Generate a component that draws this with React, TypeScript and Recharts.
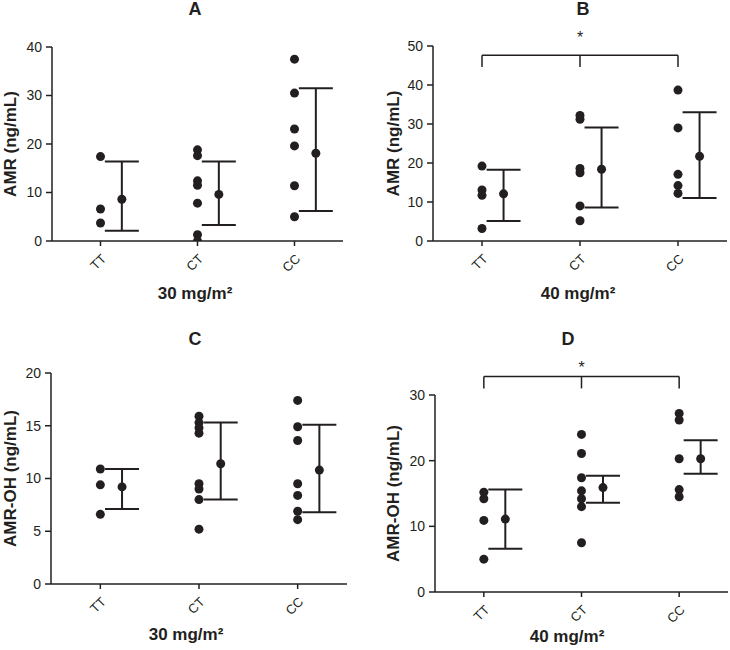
import React from "react";
import {
  ScatterChart,
  Scatter,
  XAxis,
  YAxis,
  ErrorBar,
  ReferenceLine,
} from "recharts";

// genotype groups on the x axis
const genotypes = ["TT", "CT", "CC"];

// Panel A - AMR, 30 mg/m2
const aTT = [17.4, 6.6, 3.7];
const aCT = [18.8, 17.6, 12.4, 11.5, 7.8, 1.3, 0];
const aCC = [37.5, 30.5, 23.1, 19.6, 11.4, 5.0];
const aMean = [8.6, 9.6, 18.1];
const aLow = [2.1, 3.3, 6.2];
const aHigh = [16.4, 16.4, 31.5];

// Panel B - AMR, 40 mg/m2
const bTT = [19.2, 13.1, 11.7, 3.2];
const bCT = [32.2, 31.2, 18.6, 17.5, 9.0, 5.2];
const bCC = [38.7, 29.0, 17.1, 14.2, 12.2];
const bMean = [12.1, 18.4, 21.7];
const bLow = [5.1, 8.6, 11.0];
const bHigh = [18.3, 29.1, 33.0];

// Panel C - AMR-OH, 30 mg/m2
const cTT = [10.9, 9.4, 6.6];
const cCT = [15.9, 15.3, 14.8, 14.3, 9.5, 9.0, 8.0, 5.2];
const cCC = [17.4, 14.9, 13.6, 9.5, 8.4, 6.9, 6.1];
const cMean = [9.2, 11.4, 10.8];
const cLow = [7.1, 8.0, 6.8];
const cHigh = [10.9, 15.3, 15.1];

// Panel D - AMR-OH, 40 mg/m2
const dTT = [15.2, 14.2, 10.9, 5.0];
const dCT = [24.0, 21.1, 17.4, 15.4, 14.2, 13.0, 7.5];
const dCC = [27.2, 26.2, 20.3, 15.6, 14.5];
const dMean = [11.1, 15.9, 20.3];
const dLow = [6.6, 13.6, 18.0];
const dHigh = [15.6, 17.7, 23.1];

// y ticks
const ticksA = [0, 10, 20, 30, 40];
const ticksB = [0, 10, 20, 30, 40, 50];
const ticksC = [0, 5, 10, 15, 20];
const ticksD = [0, 10, 20, 30];

const INK = "#231f20";
const FONT = "'Liberation Sans', Arial, Helvetica, sans-serif";
const MEAN_SHIFT = 0.22; // mean +/- SD drawn just right of the raw points
const X_AXIS_H = 60;

const Dot = (props: any) => (
  <circle cx={props.cx} cy={props.cy} r={4.5} fill={INK} />
);

type PanelProps = {
  left: number;
  top: number;
  width: number;
  height: number;
  plotLeft: number;
  plotRight: number;
  plotTop: number;
  plotBottom: number;
  groups: number[][];
  mean: number[];
  low: number[];
  high: number[];
  ticks: number[];
  yLabel: string;
  xLabel: string;
  title: string;
  titleX: number;
  titleY: number;
  xLabelX: number;
  xLabelY: number;
  yLabelX: number;
  bracket?: { y: number; drop: number; starOffset: number };
};

const Panel = (p: PanelProps) => {
  const points = p.groups.flatMap((vals, i) =>
    vals.map((v) => ({ x: i, y: v }))
  );
  const means = p.mean.map((m, i) => ({
    x: i + MEAN_SHIFT,
    y: m,
    err: [m - p.low[i], p.high[i] - m],
  }));
  const margin = {
    top: p.plotTop,
    right: p.width - p.plotRight,
    bottom: p.height - p.plotBottom - X_AXIS_H,
    left: 0,
  };
  const yMid = (p.plotTop + p.plotBottom) / 2;
  const yMax = p.ticks[p.ticks.length - 1];
  return (
    <div style={{ position: "absolute", left: p.left, top: p.top }}>
      <ScatterChart width={p.width} height={p.height} margin={margin}>
        <XAxis
          type="number"
          dataKey="x"
          domain={[-0.5, 2.5]}
          ticks={[0, 1, 2]}
          interval={0}
          height={X_AXIS_H}
          tickFormatter={(v: number) => genotypes[v]}
          angle={-45}
          textAnchor="end"
          tickMargin={7}
          tick={{ fontSize: 13, fill: INK, fontFamily: FONT }}
          tickSize={5}
          axisLine={{ stroke: INK, strokeWidth: 1.5 }}
          tickLine={{ stroke: INK, strokeWidth: 1.5 }}
        />
        <YAxis
          type="number"
          dataKey="y"
          domain={[0, yMax]}
          ticks={p.ticks}
          interval={0}
          allowDataOverflow
          width={p.plotLeft}
          tickSize={6}
          tickMargin={4}
          tick={{ fontSize: 14, fill: INK, fontFamily: FONT }}
          axisLine={{ stroke: INK, strokeWidth: 1.5 }}
          tickLine={{ stroke: INK, strokeWidth: 1.5 }}
        />
        <Scatter data={points} shape={<Dot />} isAnimationActive={false} />
        <Scatter data={means} shape={<Dot />} isAnimationActive={false}>
          <ErrorBar
            dataKey="err"
            direction="y"
            width={17}
            stroke={INK}
            strokeWidth={2}
          />
        </Scatter>
        {p.bracket && (
          <ReferenceLine
            segment={[
              { x: 0, y: p.bracket.y },
              { x: 2, y: p.bracket.y },
            ]}
            stroke={INK}
            strokeWidth={1.5}
            ifOverflow="visible"
            label={{
              value: "*",
              position: "top",
              offset: p.bracket.starOffset,
              fontSize: 16,
              fill: INK,
              fontFamily: FONT,
            }}
          />
        )}
        {p.bracket &&
          [0, 1, 2].map((i) => (
            <ReferenceLine
              key={i}
              segment={[
                { x: i, y: p.bracket!.y },
                { x: i, y: p.bracket!.drop },
              ]}
              stroke={INK}
              strokeWidth={1.5}
              ifOverflow="visible"
            />
          ))}
        <text
          x={p.titleX}
          y={p.titleY}
          textAnchor="middle"
          fontSize={18}
          fontWeight="bold"
          fill={INK}
          fontFamily={FONT}
        >
          {p.title}
        </text>
        <text
          x={p.xLabelX}
          y={p.xLabelY}
          textAnchor="middle"
          fontSize={17}
          fontWeight="bold"
          fill={INK}
          fontFamily={FONT}
        >
          {p.xLabel}
        </text>
        <text
          x={p.yLabelX}
          y={yMid}
          textAnchor="middle"
          transform={`rotate(-90, ${p.yLabelX}, ${yMid})`}
          fontSize={17}
          fontWeight="bold"
          fill={INK}
          fontFamily={FONT}
        >
          {p.yLabel}
        </text>
      </ScatterChart>
    </div>
  );
};

const App: React.FC = () => {
  return (
    <div
      style={{
        position: "absolute",
        left: 0,
        top: 0,
        width: 730,
        height: 650,
        background: "#fff",
      }}
    >
      <Panel
        left={0}
        top={0}
        width={365}
        height={320}
        plotLeft={52}
        plotRight={343}
        plotTop={47}
        plotBottom={241}
        groups={[aTT, aCT, aCC]}
        mean={aMean}
        low={aLow}
        high={aHigh}
        ticks={ticksA}
        yLabel="AMR (ng/mL)"
        xLabel="30 mg/m²"
        title="A"
        titleX={195}
        titleY={15}
        xLabelX={195}
        xLabelY={299}
        yLabelX={16}
      />
      <Panel
        left={365}
        top={0}
        width={365}
        height={320}
        plotLeft={68}
        plotRight={362}
        plotTop={46}
        plotBottom={241}
        groups={[bTT, bCT, bCC]}
        mean={bMean}
        low={bLow}
        high={bHigh}
        ticks={ticksB}
        yLabel="AMR (ng/mL)"
        xLabel="40 mg/m²"
        title="B"
        titleX={218}
        titleY={15}
        xLabelX={213}
        xLabelY={299}
        yLabelX={34}
        bracket={{ y: 47.6, drop: 44.6, starOffset: 12 }}
      />
      <Panel
        left={0}
        top={320}
        width={365}
        height={330}
        plotLeft={51}
        plotRight={347}
        plotTop={53}
        plotBottom={264}
        groups={[cTT, cCT, cCC]}
        mean={cMean}
        low={cLow}
        high={cHigh}
        ticks={ticksC}
        yLabel="AMR-OH (ng/mL)"
        xLabel="30 mg/m²"
        title="C"
        titleX={195}
        titleY={25}
        xLabelX={186}
        xLabelY={320}
        yLabelX={16}
      />
      <Panel
        left={365}
        top={320}
        width={365}
        height={330}
        plotLeft={70}
        plotRight={363}
        plotTop={75}
        plotBottom={272}
        groups={[dTT, dCT, dCC]}
        mean={dMean}
        low={dLow}
        high={dHigh}
        ticks={ticksD}
        yLabel="AMR-OH (ng/mL)"
        xLabel="40 mg/m²"
        title="D"
        titleX={203}
        titleY={25}
        xLabelX={202}
        xLabelY={322}
        yLabelX={34}
        bracket={{ y: 32.8, drop: 31.0, starOffset: 4 }}
      />
    </div>
  );
};

export default App;
